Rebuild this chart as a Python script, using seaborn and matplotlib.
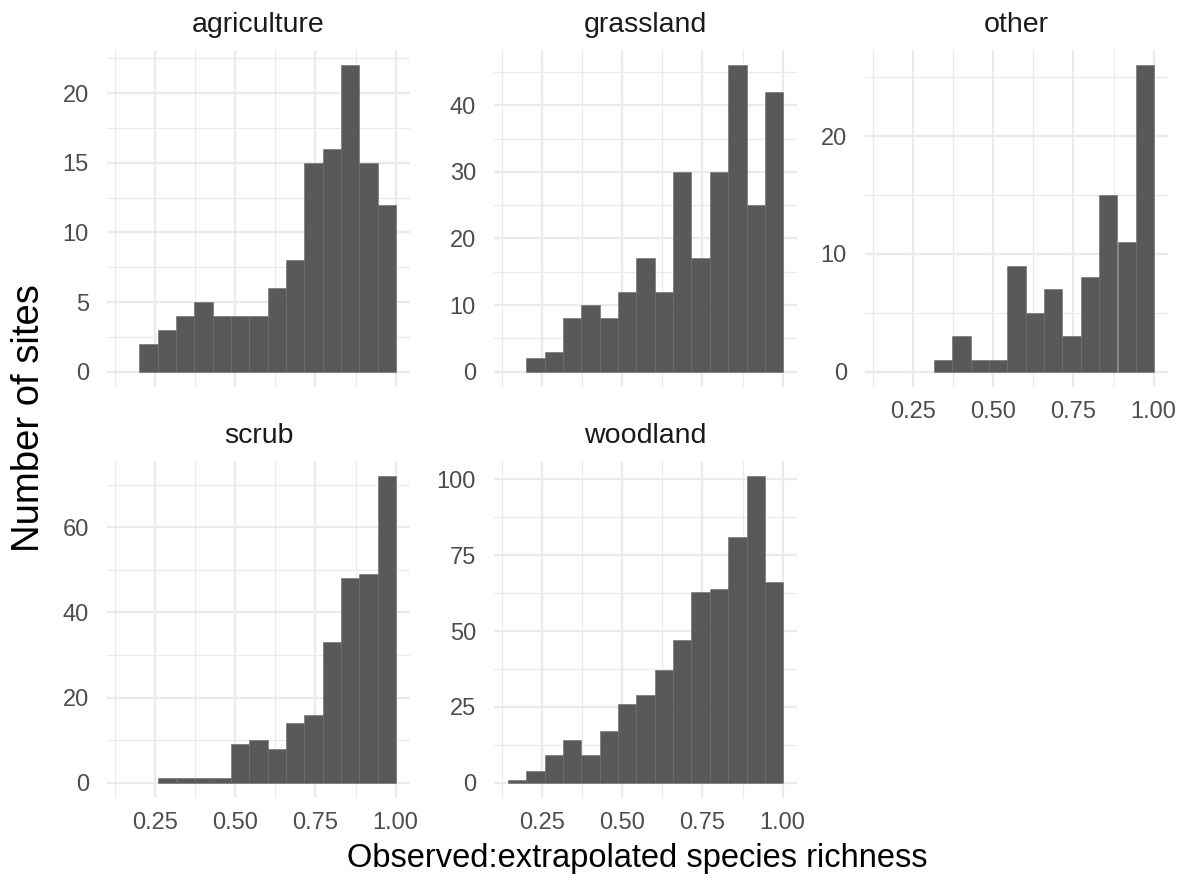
import numpy as np
import pandas as pd
import matplotlib
matplotlib.use("Agg")
import matplotlib.pyplot as plt
import seaborn as sns
from matplotlib.ticker import MultipleLocator, FormatStrFormatter, FuncFormatter

# bin grid shared by all facets (15 bins)
bin_lo, bin_hi, n_bins = 0.143, 1.002, 15

habitats = ["agriculture", "grassland", "other", "scrub", "woodland"]
agriculture = [0, 2, 3, 4, 5, 4, 4, 4, 6, 8, 15, 16, 22, 15, 12]
grassland = [0, 2, 3, 8, 10, 8, 12, 17, 12, 30, 17, 30, 46, 25, 42]
other = [0, 0, 0, 1, 3, 1, 1, 9, 5, 7, 3, 8, 15, 11, 26]
scrub = [0, 0, 1, 1, 1, 1, 9, 10, 8, 14, 16, 33, 48, 49, 72]
woodland = [1, 4, 9, 14, 9, 17, 26, 29, 37, 47, 63, 64, 81, 101, 66]
counts = [agriculture, grassland, other, scrub, woodland]
y_steps = [5, 10, 10, 20, 25]

x_ticks = [0.25, 0.50, 0.75, 1.00]

edges = np.linspace(bin_lo, bin_hi, n_bins + 1)
centres = (edges[:-1] + edges[1:]) / 2
rows = []
for hab, cnt in zip(habitats, counts):
    for c, n in zip(centres, cnt):
        rows.append({"habitat": hab, "ratio": c, "n": n})
df = pd.DataFrame(rows)

sns.set_style("white")
plt.rcParams["font.family"] = ["Liberation Sans", "DejaVu Sans"]

W, H = 1192, 885
fig = plt.figure(figsize=(W / 100, H / 100), dpi=100)

# panel boxes in pixels (left, top)
boxes = [(107, 50), (494, 50), (865, 50), (107, 461), (494, 461)]
pw, ph = 303, 337
show_x = [False, False, True, True, True]

grid_col = "#ebebeb"
pad = 0.05 * (edges[-1] - edges[0])

for i, hab in enumerate(habitats):
    left, top = boxes[i]
    ax = fig.add_axes([left / W, 1 - (top + ph) / H, pw / W, ph / H])
    sub = df[(df["habitat"] == hab) & (df["n"] > 0)]
    # start the bins at the first non-empty one so no flat bars are drawn
    first = int(np.argmax(np.array(counts[i]) > 0))
    sns.histplot(data=sub, x="ratio", weights="n", bins=list(edges[first:]), ax=ax,
                 color="#595959", alpha=1, edgecolor="#6a6a6a", linewidth=0.4)
    ymax = sub["n"].max()
    ax.set_xlim(edges[0] - pad, edges[-1] + pad)
    ax.set_ylim(-0.05 * ymax, 1.05 * ymax)
    ax.set_xticks(x_ticks)
    ax.xaxis.set_minor_locator(MultipleLocator(0.125))
    ax.yaxis.set_major_locator(MultipleLocator(y_steps[i]))
    ax.yaxis.set_minor_locator(MultipleLocator(y_steps[i] / 2))
    ax.xaxis.set_major_formatter(FormatStrFormatter("%.2f"))
    ax.yaxis.set_major_formatter(FuncFormatter(lambda v, p: f"{int(round(v))}"))
    ax.grid(which="major", color=grid_col, linewidth=1.7)
    ax.grid(which="minor", color=grid_col, linewidth=0.9)
    ax.set_axisbelow(True)
    for s in ax.spines.values():
        s.set_visible(False)
    ax.tick_params(which="both", length=0, labelsize=17, labelcolor="#4d4d4d")
    ax.tick_params(axis="y", pad=13)
    ax.tick_params(axis="x", pad=10, labelbottom=show_x[i])
    ax.set_xlabel("")
    ax.set_ylabel("")
    ax.set_title(hab, fontsize=20.5, color="#1a1a1a", pad=13)

fig.text(637 / W, 1 - 867 / H, "Observed:extrapolated species richness",
         ha="center", va="baseline", fontsize=23.5, color="black")
fig.text(29 / W, 1 - 418 / H, "Number of sites", rotation=90,
         ha="center", va="center", fontsize=27.5, color="black")

fig.savefig("out.png", dpi=100)
